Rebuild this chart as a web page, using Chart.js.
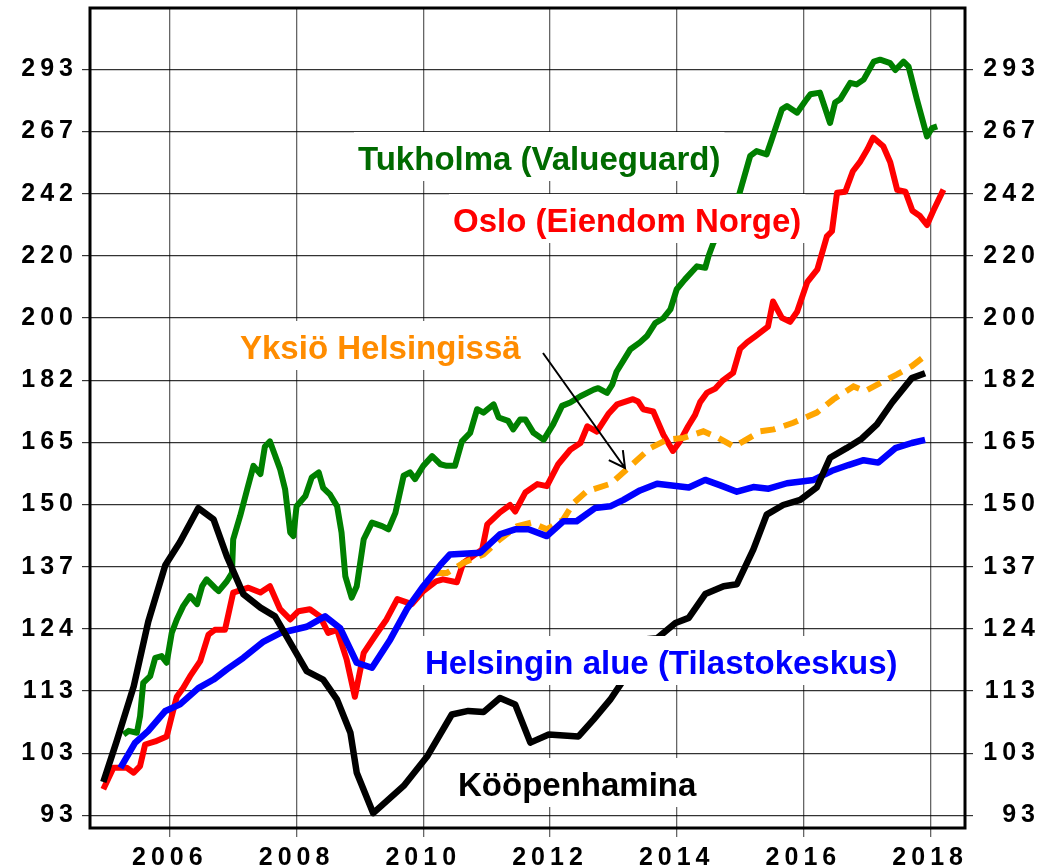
<!DOCTYPE html>
<html>
<head>
<meta charset="utf-8">
<script src="https://cdn.jsdelivr.net/npm/chart.js@4/dist/chart.umd.min.js"></script>
<style>
  html, body { margin: 0; padding: 0; background: #fff; }
  canvas { display: block; }
</style>
</head>
<body>
<canvas id="chart" width="1053" height="867"></canvas>
<script>
// Axis ticks
const xTickYears = [2006, 2008, 2010, 2012, 2014, 2016, 2018];
const yTickLabels = ["93", "103", "113", "124", "137", "150", "165", "182", "200", "220", "242", "267", "293"];
const xMin = 2004.74, xMax = 2018.55;
const yMin = 91.2, yMax = 322;

// Tukholma (Valueguard)
const stockholmYears = [2005.27, 2005.35, 2005.48, 2005.53, 2005.58, 2005.69, 2005.77, 2005.87, 2005.95, 2006.03, 2006.11, 2006.21, 2006.32, 2006.43, 2006.51, 2006.58, 2006.71, 2006.77, 2006.90, 2006.98, 2007.00, 2007.11, 2007.22, 2007.32, 2007.43, 2007.50, 2007.58, 2007.74, 2007.82, 2007.90, 2007.95, 2008.00, 2008.14, 2008.24, 2008.35, 2008.42, 2008.53, 2008.64, 2008.71, 2008.77, 2008.87, 2008.95, 2009.06, 2009.19, 2009.35, 2009.45, 2009.56, 2009.69, 2009.79, 2009.87, 2010.00, 2010.14, 2010.27, 2010.37, 2010.50, 2010.61, 2010.74, 2010.85, 2010.95, 2011.11, 2011.19, 2011.34, 2011.42, 2011.53, 2011.61, 2011.74, 2011.90, 2012.05, 2012.19, 2012.32, 2012.48, 2012.69, 2012.76, 2012.90, 2012.98, 2013.05, 2013.27, 2013.42, 2013.53, 2013.66, 2013.79, 2013.90, 2014.00, 2014.13, 2014.32, 2014.45, 2014.50, 2014.58, 2014.97, 2015.16, 2015.26, 2015.42, 2015.50, 2015.66, 2015.74, 2015.90, 2016.03, 2016.11, 2016.26, 2016.42, 2016.50, 2016.58, 2016.74, 2016.84, 2016.95, 2017.11, 2017.21, 2017.37, 2017.45, 2017.58, 2017.66, 2017.79, 2017.95, 2018.03, 2018.11];
const stockholmValues = [105.3, 105.9, 105.6, 108.3, 114.0, 115.2, 118.5, 118.8, 117.6, 123.1, 125.7, 128.3, 130.3, 128.7, 132.3, 133.7, 132.0, 131.3, 133.3, 135.0, 142.2, 147.4, 153.5, 159.2, 157.2, 164.0, 165.3, 158.4, 153.5, 143.7, 142.9, 149.6, 152.0, 156.4, 157.6, 153.9, 152.3, 149.6, 143.7, 134.3, 130.0, 132.3, 142.2, 145.9, 145.1, 144.4, 148.1, 156.8, 157.6, 156.0, 159.2, 161.6, 159.6, 159.2, 159.2, 165.3, 167.5, 173.7, 172.8, 175.0, 171.5, 170.6, 168.4, 171.0, 171.0, 167.5, 165.7, 169.7, 174.6, 175.5, 177.2, 179.0, 179.4, 178.1, 180.3, 184.0, 190.5, 192.5, 194.4, 198.3, 199.8, 202.5, 208.9, 212.1, 216.4, 215.9, 219.7, 224.4, 240.4, 256.5, 258.4, 257.1, 263.0, 275.5, 276.9, 274.1, 279.1, 282.0, 282.7, 269.8, 278.4, 279.8, 287.0, 286.3, 288.4, 296.5, 297.4, 295.8, 292.7, 296.5, 294.2, 279.8, 264.3, 267.7, 268.4];

// Oslo (Eiendom Norge)
const osloYears = [2004.95, 2005.11, 2005.32, 2005.43, 2005.53, 2005.61, 2005.77, 2005.95, 2006.03, 2006.11, 2006.21, 2006.32, 2006.48, 2006.61, 2006.71, 2006.87, 2007.00, 2007.24, 2007.43, 2007.58, 2007.74, 2007.90, 2008.03, 2008.21, 2008.37, 2008.50, 2008.64, 2008.79, 2008.92, 2009.06, 2009.27, 2009.42, 2009.59, 2009.82, 2010.00, 2010.20, 2010.31, 2010.53, 2010.63, 2010.93, 2011.01, 2011.21, 2011.37, 2011.45, 2011.61, 2011.80, 2011.95, 2012.13, 2012.32, 2012.48, 2012.59, 2012.74, 2012.92, 2013.06, 2013.31, 2013.39, 2013.47, 2013.63, 2013.79, 2013.94, 2014.05, 2014.18, 2014.29, 2014.37, 2014.48, 2014.61, 2014.73, 2014.89, 2015.00, 2015.11, 2015.24, 2015.44, 2015.52, 2015.66, 2015.79, 2015.90, 2016.06, 2016.22, 2016.37, 2016.45, 2016.53, 2016.66, 2016.78, 2016.89, 2017.01, 2017.10, 2017.26, 2017.37, 2017.48, 2017.61, 2017.72, 2017.84, 2017.95, 2018.05, 2018.21];
const osloValues = [96.8, 100.05, 100.05, 99.3, 100.3, 103.7, 104.2, 105.0, 108.3, 111.6, 113.1, 115.2, 117.9, 122.8, 123.7, 123.7, 131.0, 132.0, 131.0, 132.3, 127.7, 125.7, 127.3, 127.7, 126.3, 123.1, 123.7, 118.2, 111.6, 119.4, 123.1, 125.7, 129.7, 128.7, 131.3, 133.3, 133.7, 133.1, 137.1, 140.0, 145.5, 148.2, 149.9, 148.4, 152.8, 154.8, 154.3, 159.6, 163.2, 164.9, 169.2, 167.8, 172.4, 175.0, 176.4, 175.8, 173.7, 173.1, 167.0, 162.9, 165.3, 169.2, 172.2, 175.6, 178.2, 179.3, 181.6, 183.7, 190.6, 192.5, 194.3, 197.2, 205.0, 199.9, 198.7, 201.8, 211.2, 215.4, 226.6, 228.4, 242.3, 242.7, 250.5, 254.0, 259.1, 263.8, 260.3, 254.0, 243.4, 242.7, 235.7, 233.8, 230.6, 235.7, 243.5];

// Yksiö Helsingissä
const studioYears = [2010.19, 2010.37, 2010.63, 2010.95, 2011.21, 2011.48, 2011.71, 2011.95, 2012.21, 2012.37, 2012.58, 2012.96, 2013.23, 2013.58, 2013.84, 2014.11, 2014.42, 2014.66, 2014.90, 2015.05, 2015.32, 2015.53, 2015.84, 2016.21, 2016.47, 2016.79, 2016.97, 2017.21, 2017.47, 2017.71, 2017.95];
const studioValues = [135.0, 135.0, 137.1, 138.9, 142.2, 145.1, 145.9, 144.4, 146.6, 150.3, 153.1, 154.9, 158.6, 163.6, 165.7, 166.2, 167.9, 166.2, 164.0, 165.3, 167.9, 168.4, 170.1, 172.8, 176.3, 179.9, 178.6, 180.8, 183.2, 185.6, 189.0];

// Helsingin alue (Tilastokeskus)
const helsinkiYears = [2005.22, 2005.45, 2005.66, 2005.93, 2006.16, 2006.45, 2006.69, 2006.90, 2007.16, 2007.48, 2007.74, 2008.16, 2008.45, 2008.69, 2008.95, 2009.19, 2009.48, 2009.74, 2010.00, 2010.27, 2010.42, 2010.90, 2011.21, 2011.45, 2011.66, 2011.95, 2012.21, 2012.42, 2012.71, 2012.95, 2013.16, 2013.42, 2013.69, 2014.19, 2014.45, 2014.69, 2014.95, 2015.21, 2015.45, 2015.74, 2016.16, 2016.45, 2016.71, 2016.95, 2017.18, 2017.45, 2017.71, 2017.92];
const helsinkiValues = [100.05, 103.95, 105.9, 109.2, 110.3, 113.1, 114.6, 116.4, 118.5, 121.5, 123.1, 124.3, 126.3, 124.0, 117.6, 116.7, 121.9, 127.7, 132.3, 136.7, 138.9, 139.3, 143.3, 144.4, 144.4, 142.9, 146.2, 146.2, 149.2, 149.6, 151.1, 153.3, 154.9, 154.0, 155.8, 154.5, 153.0, 154.1, 153.7, 155.0, 155.8, 158.0, 159.4, 160.6, 160.0, 163.6, 164.9, 165.7];

// Kööpenhamina
const copenhagenYears = [2004.95, 2005.16, 2005.43, 2005.66, 2005.93, 2006.16, 2006.45, 2006.69, 2006.90, 2007.16, 2007.43, 2007.66, 2007.90, 2008.16, 2008.42, 2008.64, 2008.85, 2008.95, 2009.21, 2009.69, 2010.06, 2010.45, 2010.71, 2010.95, 2011.21, 2011.45, 2011.69, 2011.98, 2012.45, 2012.69, 2012.95, 2013.14, 2013.31, 2013.69, 2013.98, 2014.19, 2014.45, 2014.74, 2014.95, 2015.21, 2015.42, 2015.68, 2015.95, 2016.21, 2016.42, 2016.68, 2016.92, 2017.16, 2017.40, 2017.71, 2017.92];
const copenhagenValues = [97.9, 104.2, 113.4, 125.3, 136.7, 141.6, 149.2, 146.6, 138.5, 130.7, 128.0, 126.3, 121.3, 116.1, 114.6, 111.1, 105.6, 99.3, 93.3, 97.3, 101.8, 108.6, 109.2, 109.0, 111.4, 110.3, 104.0, 105.3, 105.0, 107.8, 111.1, 114.2, 121.7, 122.1, 125.0, 126.0, 130.7, 132.3, 132.7, 140.0, 147.7, 149.9, 151.1, 154.0, 161.2, 163.6, 166.0, 169.7, 175.5, 182.2, 183.6];

// Text labels drawn inside the plot (pixel layout)
const seriesLabels = [
	{ text: "Tukholma (Valueguard)", x: 358, y: 170, color: "#006a00" },
	{ text: "Oslo (Eiendom Norge)", x: 453, y: 232, color: "#ff0000" },
	{ text: "Yksiö Helsingissä", x: 240, y: 359, color: "#ff8c00" },
	{ text: "Helsingin alue (Tilastokeskus)", x: 425, y: 674, color: "#0000ff" },
	{ text: "Kööpenhamina", x: 458, y: 796, color: "#000000" },
];

const tickFont = { family: "'Liberation Sans', Arial, sans-serif", size: 25, weight: "bold" };

function toPoints(xs, ys) {
	return xs.map((x, i) => ({ x: x, y: ys[i] }));
}

// y ticks sit on an even (geometric) grid between the first and last label
function yTickValues() {
	const lo = Number(yTickLabels[0]);
	const hi = Number(yTickLabels[yTickLabels.length - 1]);
	const n = yTickLabels.length - 1;
	return yTickLabels.map((l, k) => lo * Math.pow(hi / lo, k / n));
}

function lineSet(label, data, color, extra) {
	return Object.assign({
		label: label,
		data: data,
		borderColor: color,
		borderWidth: 6,
		pointRadius: 0,
		tension: 0,
		borderJoinStyle: "round",
		fill: false,
	}, extra || {});
}

// canvas letter spacing for the axis numbers
const spacingPlugin = {
	id: "spacing",
	beforeUpdate(chart) { chart.ctx.letterSpacing = "5px"; },
	beforeDraw(chart) { chart.ctx.letterSpacing = "5px"; },
};

const labelsPlugin = {
	id: "seriesLabels",
	afterDatasetsDraw(chart) {
		const ctx = chart.ctx;
		ctx.save();
		ctx.letterSpacing = "0px";
		ctx.font = "bold 33px 'Liberation Sans', Arial, sans-serif";
		ctx.textAlign = "left";
		ctx.textBaseline = "alphabetic";
		seriesLabels.forEach((l) => {
			const w = ctx.measureText(l.text).width;
			ctx.fillStyle = "#ffffff";
			ctx.fillRect(l.x - 4, l.y - 38, w + 8, 49);
			ctx.fillStyle = l.color;
			ctx.fillText(l.text, l.x, l.y);
		});

		// arrow pointing at the studio series
		const x0 = 543, y0 = 353, x1 = 625, y1 = 468;
		const ang = Math.atan2(y1 - y0, x1 - x0);
		ctx.strokeStyle = "#000";
		ctx.lineWidth = 2;
		ctx.beginPath();
		ctx.moveTo(x0, y0);
		ctx.lineTo(x1, y1);
		ctx.moveTo(x1 - 18 * Math.cos(ang - 0.5), y1 - 18 * Math.sin(ang - 0.5));
		ctx.lineTo(x1, y1);
		ctx.lineTo(x1 - 18 * Math.cos(ang + 0.5), y1 - 18 * Math.sin(ang + 0.5));
		ctx.stroke();
		ctx.restore();
	},
};

const framePlugin = {
	id: "frame",
	afterDraw(chart) {
		const a = chart.chartArea;
		const ctx = chart.ctx;
		ctx.save();
		ctx.strokeStyle = "#000";
		ctx.lineWidth = 3;
		ctx.strokeRect(a.left, a.top, a.right - a.left, a.bottom - a.top);
		ctx.restore();
	},
};

function yAxis(position, width, extra) {
	return Object.assign({
		type: "logarithmic",
		position: position,
		min: yMin,
		max: yMax,
		afterBuildTicks: (s) => { s.ticks = yTickValues().map((v) => ({ value: v })); },
		ticks: {
			callback: (v, i) => yTickLabels[i],
			font: tickFont,
			color: "#000",
			padding: 4,
			autoSkip: false,
		},
		grid: { color: "rgba(0,0,0,0.8)", lineWidth: 1.2, tickLength: 8, drawTicks: true },
		border: { display: false },
		afterFit: (s) => { s.width = width; s.paddingTop = 0; s.paddingBottom = 0; },
	}, extra);
}

const ctx = document.getElementById("chart").getContext("2d");
const chart = new Chart(ctx, {
	type: "line",
	data: {
		datasets: [
			lineSet("Kööpenhamina", toPoints(copenhagenYears, copenhagenValues), "#000000", { borderWidth: 6.5 }),
			lineSet("Helsingin alue (Tilastokeskus)", toPoints(helsinkiYears, helsinkiValues), "#0000ff", { borderWidth: 6.5 }),
			lineSet("Yksiö Helsingissä", toPoints(studioYears, studioValues), "#ffa500", { borderDash: [15, 9], borderCapStyle: "butt", borderJoinStyle: "miter" }),
			lineSet("Oslo (Eiendom Norge)", toPoints(osloYears, osloValues), "#ff0000"),
			lineSet("Tukholma (Valueguard)", toPoints(stockholmYears, stockholmValues), "#008000"),
		],
	},
	options: {
		responsive: false,
		animation: false,
		devicePixelRatio: 1,
		layout: { padding: { top: 8, right: 13, left: 0, bottom: 0 } },
		plugins: { legend: { display: false }, tooltip: { enabled: false } },
		scales: {
			x: {
				type: "linear",
				min: xMin,
				max: xMax,
				afterBuildTicks: (s) => { s.ticks = xTickYears.map((v) => ({ value: v })); },
				ticks: {
					callback: (v) => String(v),
					font: tickFont,
					color: "#000",
					padding: 6,
					maxRotation: 0,
					autoSkip: false,
				},
				grid: { color: "rgba(0,0,0,0.6)", lineWidth: 1.3, tickLength: 9, drawTicks: true },
				border: { display: false },
				afterFit: (s) => { s.height = 39; s.paddingLeft = 0; s.paddingRight = 0; },
			},
			y: yAxis("left", 90, {}),
			y2: yAxis("right", 75, {}),
		},
	},
	plugins: [spacingPlugin, labelsPlugin, framePlugin],
});
// right axis: ticks only, labels right aligned
chart.options.scales.y2.grid.drawOnChartArea = false;
chart.options.scales.y2.ticks.crossAlign = "far";
chart.update();
</script>
</body>
</html>
